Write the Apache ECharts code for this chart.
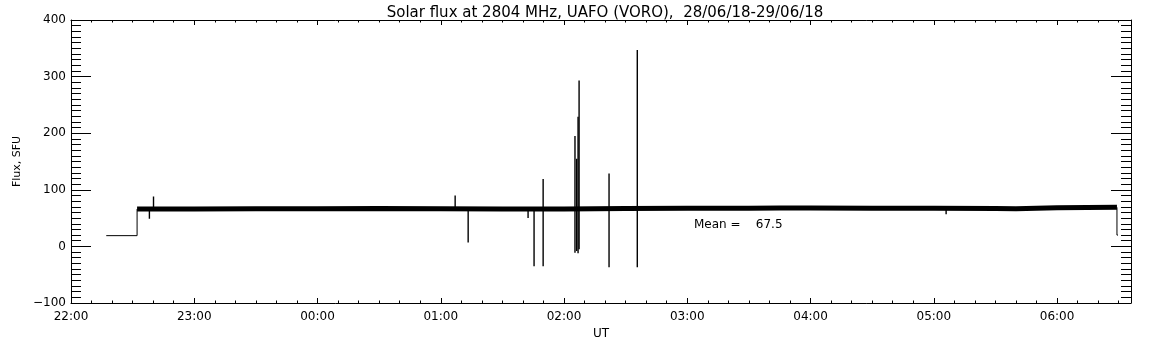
<!DOCTYPE html>
<html>
<head>
<meta charset="utf-8">
<script src="https://cdn.jsdelivr.net/npm/echarts@6/dist/echarts.min.js"></script>
<style>
  html, body { margin: 0; padding: 0; background: #fff; }
  #chart { width: 1152px; height: 345px; }
</style>
</head>
<body>
<div id="chart"></div>
<script>
// start of the time axis: 28/06/18 22:00 UT, times below are HH:MM:SS
var startHour = 22
var axisEnd = '06:36:00'
var xTicks = ['22:00', '23:00', '00:00', '01:00', '02:00', '03:00', '04:00', '05:00', '06:00']
var yTicks = [-100, 0, 100, 200, 300, 400]

// low level before / after the observation (thin step)
var stepStartTimes = ['22:17:10', '22:32:10', '22:32:10']
var stepStartValues = [19, 19, 66]
var stepEndTimes = ['06:29:10', '06:29:10', '06:29:40']
var stepEndValues = [69, 20, 20]

// quiet-sun level (thick noisy band)
var bandTimes = ['22:32:10', '23:00:00', '23:30:00', '00:00:00', '00:30:00', '01:00:00', '01:30:00',
  '02:00:00', '02:30:00', '03:00:00', '03:30:00', '03:45:00', '04:00:00', '04:30:00', '05:00:00',
  '05:30:00', '05:40:00', '06:00:00', '06:29:10']
var bandValues = [66, 66, 66.5, 66.5, 67, 66.5, 66, 66, 67, 67.5, 67.5, 68, 68, 67.5, 67.5, 67, 66.5, 68.5, 69]

// short bursts / interference: time, top, bottom
var spikeTimes = ['22:38:10', '22:40:10', '01:07:00', '01:13:20', '01:42:30', '01:45:25', '01:49:50',
  '02:05:20', '02:06:10', '02:06:50', '02:07:20', '02:21:55', '02:35:40', '05:06:00']
var spikeTops = [67, 88, 90, 67, 67, 67, 119, 195, 155, 229, 293, 129, 347, 67]
var spikeBottoms = [49, 67, 67, 7, 50, -35, -35, -11, -8, -12, -5, -37, -37, 57]

var meanValue = 67.5

function toMin(s) {
  var p = s.split(':').map(Number)
  var m = p[0] * 60 + p[1] + (p[2] || 0) / 60 - startHour * 60
  if (m < 0) m += 24 * 60
  return m
}
function pairs(times, values) {
  return times.map(function(t, i) { return [toMin(t), values[i]] })
}

var chart = echarts.init(document.getElementById('chart'))
var fontName = 'DejaVu Sans'
var tickTimes = xTicks.map(toMin)

var series = [
  {
    type: 'line', data: pairs(stepStartTimes, stepStartValues), symbol: 'none',
    lineStyle: { color: '#000', width: 1 }, animation: false
  },
  {
    type: 'line', data: pairs(stepEndTimes, stepEndValues), symbol: 'none',
    lineStyle: { color: '#000', width: 1 }, animation: false
  },
  {
    type: 'line', data: pairs(bandTimes, bandValues), symbol: 'none',
    lineStyle: { color: '#000', width: 5, cap: 'butt' }, animation: false
  }
]
spikeTimes.forEach(function(t, i) {
  series.push({
    type: 'line', symbol: 'none', animation: false,
    data: [[toMin(t), spikeBottoms[i]], [toMin(t), spikeTops[i]]],
    lineStyle: { color: '#000', width: 1.4 }
  })
})

var axisCommon = {
  axisLine: { show: true, onZero: false, lineStyle: { color: '#000', width: 1 } },
  splitLine: { show: false }
}

var option = {
  animation: false,
  title: {
    text: 'Solar flux at 2804 MHz, UAFO (VORO),  28/06/18-29/06/18',
    left: 600, top: 1, textAlign: 'center',
    textStyle: { fontFamily: fontName, fontSize: 15, fontWeight: 'normal', color: '#000' }
  },
  grid: { left: 71, right: 21, top: 20, bottom: 42 },
  xAxis: [
    Object.assign({
      type: 'value', position: 'bottom', min: 0, max: toMin(axisEnd), interval: 60,
      name: 'UT', nameLocation: 'middle', nameGap: 21,
      nameTextStyle: { fontFamily: fontName, fontSize: 12, color: '#000' },
      axisTick: { inside: true, length: 5, lineStyle: { color: '#000' },
        customValues: tickTimes },
      minorTick: { show: true, splitNumber: 6, length: 2.5, lineStyle: { color: '#000' } },
      axisLabel: {
        margin: 8, fontFamily: fontName, fontSize: 12, color: '#000',
        customValues: tickTimes,
        formatter: function(v) {
          var m = Math.round(v + startHour * 60) % (24 * 60)
          var h = Math.floor(m / 60), mm = m % 60
          return (h < 10 ? '0' : '') + h + ':' + (mm < 10 ? '0' : '') + mm
        }
      }
    }, axisCommon),
    Object.assign({
      type: 'value', position: 'top', min: 0, max: toMin(axisEnd), interval: 60,
      axisTick: { inside: true, length: 5, lineStyle: { color: '#000' }, customValues: tickTimes },
      minorTick: { show: true, splitNumber: 6, length: 2.5, lineStyle: { color: '#000' } },
      axisLabel: { show: false }
    }, axisCommon)
  ],
  yAxis: [
    Object.assign({
      type: 'value', position: 'left', min: yTicks[0], max: yTicks[yTicks.length - 1], interval: 100,
      name: 'Flux, SFU', nameLocation: 'middle', nameGap: 43, nameRotate: 90,
      nameTextStyle: { fontFamily: fontName, fontSize: 11, color: '#000' },
      axisTick: { inside: true, length: 20, lineStyle: { color: '#000' } },
      minorTick: { show: true, splitNumber: 10, length: 10, lineStyle: { color: '#000' } },
      axisLabel: {
        margin: 5, fontFamily: fontName, fontSize: 12, color: '#000',
        formatter: function(v) { return v < 0 ? '\u2212' + Math.abs(v) : String(v) }
      }
    }, axisCommon),
    Object.assign({
      type: 'value', position: 'right', min: yTicks[0], max: yTicks[yTicks.length - 1], interval: 100,
      axisTick: { inside: true, length: 20, lineStyle: { color: '#000' } },
      minorTick: { show: true, splitNumber: 10, length: 10, lineStyle: { color: '#000' } },
      axisLabel: { show: false }
    }, axisCommon)
  ],
  graphic: [
    {
      type: 'text', left: 694, top: 219,
      style: { text: 'Mean =    ' + meanValue.toFixed(1), fontFamily: fontName, fontSize: 12, fill: '#000' }
    }
  ],
  series: series
}

chart.setOption(option)
</script>
</body>
</html>
